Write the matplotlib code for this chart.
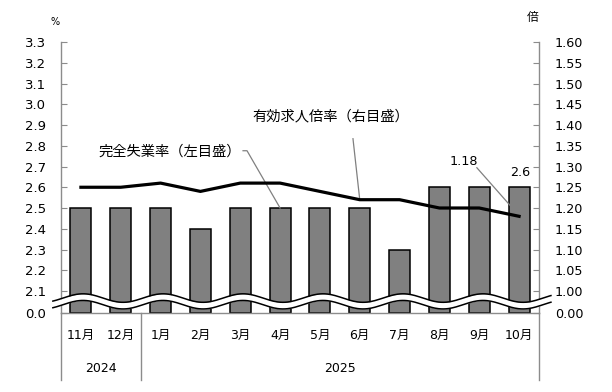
import numpy as np
import matplotlib
matplotlib.use("Agg")
import matplotlib.pyplot as plt
from matplotlib.transforms import blended_transform_factory

plt.rcParams['font.family'] = ['DejaVu Sans', 'Noto Sans CJK JP']

months = ['11月', '12月', '1月', '2月', '3月', '4月', '5月', '6月', '7月', '8月', '9月', '10月']
unemployment = [2.5, 2.5, 2.5, 2.4, 2.5, 2.5, 2.5, 2.5, 2.3, 2.6, 2.6, 2.6]
job_ratio = [1.25, 1.25, 1.26, 1.24, 1.26, 1.26, 1.24, 1.22, 1.22, 1.20, 1.20, 1.18]
years = ['2024', '2025']
left_ticks = [2.1, 2.2, 2.3, 2.4, 2.5, 2.6, 2.7, 2.8, 2.9, 3.0, 3.1, 3.2, 3.3]
right_ticks = [1.00, 1.05, 1.10, 1.15, 1.20, 1.25, 1.30, 1.35, 1.40, 1.45, 1.50, 1.55, 1.60]

LBASE = 1.994          # position of the "0.0" break label on left axis
RBASE = 1.0 + (LBASE - 2.1) / 2

def to_right(v):
    return 2.1 + (v - 1.0) * 2

fig = plt.figure(figsize=(6.12, 3.92), dpi=100)
ax = fig.add_axes([61/612, 1-313/392, 478/612, 271/392])
ax2 = ax.twinx()

x = np.arange(len(months))
ax.bar(x, [v - LBASE for v in unemployment], bottom=LBASE, width=0.53,
       color='#808080', edgecolor='black', linewidth=1.1, zorder=2)
ax.set_xlim(-0.5, len(months) - 0.5)
ax.set_ylim(LBASE, 3.3)
ax.set_yticks([LBASE] + left_ticks)
ax.set_yticklabels(['0.0'] + [f'{t:.1f}' for t in left_ticks])
ax.set_xticks([])

ax2.plot(x, job_ratio, color='black', linewidth=2.3, zorder=3)
ax2.set_ylim(RBASE, 1.60)
ax2.set_yticks([RBASE] + right_ticks)
ax2.set_yticklabels(['0.00'] + [f'{t:.2f}' for t in right_ticks])

for a in (ax, ax2):
    a.spines['top'].set_visible(False)
    for s in ['left', 'right', 'bottom']:
        a.spines[s].set_color('#8c8c8c')
        a.spines[s].set_linewidth(1.0)
ax.spines['right'].set_visible(False)
ax2.spines['left'].set_visible(False)
ax2.spines['bottom'].set_visible(False)
ax.tick_params(axis='y', direction='in', length=4, color='#8c8c8c', labelsize=9.5, pad=11)
ax2.tick_params(axis='y', direction='in', length=4, color='#8c8c8c', labelsize=9.2, pad=11.5)
ax.set_zorder(2)
ax2.set_zorder(3)
ax.patch.set_visible(False)
ax2.patch.set_visible(False)

# wavy break band
trans = blended_transform_factory(ax.transAxes, ax.transData)
xs = np.linspace(-0.017, 1.025, 400)
period = 80 / 478
phase = (83 - 61) / 478
amp = 0.0205
up = 2.066 + amp * np.cos(2 * np.pi * (xs - phase) / period)
lo = 2.034 + amp * np.cos(2 * np.pi * (xs - phase) / period)
ax2.fill_between(xs, lo, up, color='white', transform=trans, zorder=5, clip_on=False, linewidth=0)
ax2.plot(xs, up, color='black', lw=1.1, transform=trans, zorder=6, clip_on=False)
ax2.plot(xs, lo, color='black', lw=1.1, transform=trans, zorder=6, clip_on=False)

# category labels below axis
tX = blended_transform_factory(ax.transData, ax.transAxes)
for i, m in enumerate(months):
    ax.text(i, -22/271, m, ha='center', va='center', fontsize=9, transform=tX)
for xpos in [-0.5, 1.5, 11.5]:
    ax.plot([xpos, xpos], [0, -67/271], color='#8c8c8c', lw=1.0, transform=tX, clip_on=False)
ax.text(0.5, -55/271, years[0], ha='center', va='center', fontsize=9, transform=tX)
ax.text(6.5, -55/271, years[1], ha='center', va='center', fontsize=9, transform=tX)

# unit labels
fig.text(55/612, 1-22/392, '%', ha='center', va='center', fontsize=7)
fig.text(533/612, 1-18/392, '倍', ha='center', va='center', fontsize=8.5)

# annotations (leader lines on left-axis data scale)
lead = dict(color='#808080', lw=0.9, zorder=7, clip_on=False)
ax.text(2.22, 2.77, '完全失業率（左目盛）', ha='center', va='center', fontsize=10.3, zorder=7)
ax.plot([4.07, 4.17, 5.0], [2.776, 2.776, unemployment[5]], **lead)

ax.text(6.28, 2.94, '有効求人倍率（右目盛）', ha='center', va='center', fontsize=10.3, zorder=7)
ax.plot([6.83, 7.0], [2.834, to_right(job_ratio[7])], **lead)

ax.text(9.62, 2.723, f'{job_ratio[-1]:.2f}', ha='center', va='center', fontsize=9.2, zorder=7)
ax.plot([9.94, 10.97], [2.694, to_right(job_ratio[-1]) + 0.01], **lead)

ax.text(11.02, unemployment[-1] + 0.04, f'{unemployment[-1]:.1f}', ha='center', va='bottom', fontsize=9.2, zorder=7)

fig.savefig('out.png', dpi=100)
